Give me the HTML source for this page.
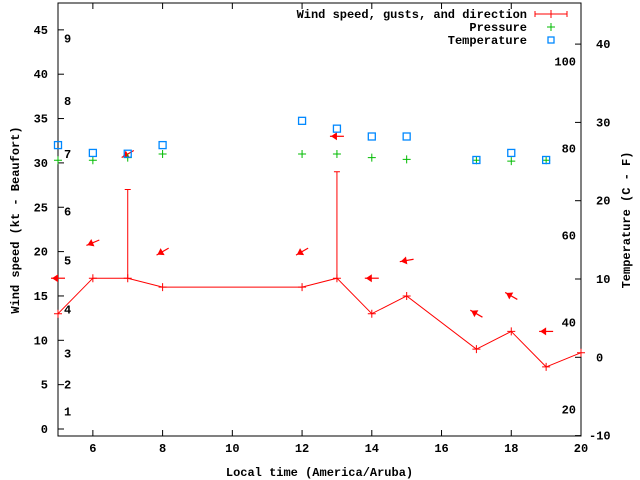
<!DOCTYPE html>
<html><head><meta charset="utf-8"><style>
body{margin:0;background:#fff}
svg{display:block;font-family:"Liberation Mono",monospace;font-weight:bold;font-size:12px}
</style></head><body>
<svg id="chart" width="640" height="480" xmlns="http://www.w3.org/2000/svg">
<rect width="640" height="480" fill="#fff"/>
<g id="g"></g>
</svg>
<script>
const hours=[5,6,7,8,12,13,14,15,17,18,19,20];
const windSpeed=[13,17,17,16,16,17,13,15,9,11,7,8.6];
const gustHours=[7,13];
const gustValues=[27,29];
const arrowHours=[5,6,7,8,12,13,14,15,17,18,19];
const arrowLevels=[17,21,31,20,20,33,17,19,13,15,11];
const windFrom=[90,67,60,60,60,90,90,80,120,120,90];
const presHours=[5,6,7,8,12,13,14,15,17,18,19];
const pressure=[30.3,30.3,30.6,31,31,31,30.6,30.4,30.3,30.2,30.3];
const tempHours=[5,6,7,8,12,13,14,15,17,18,19];
const tempC=[27.1,26.1,26,27.1,30.2,29.2,28.2,28.2,25.2,26.1,25.2];
const xTicks=[6,8,10,12,14,16,18,20];
const yTicks=[0,5,10,15,20,25,30,35,40,45];
const cTicks=[-10,0,10,20,30,40];
const fTicks=[20,40,60,80,100];
const beaufort=[1,2,3,4,5,6,7,8,9];
const beaufortKt=[2,5,8.5,13.5,19,24.5,31,37,44];

const L=58,R=581,T=3,B=436;
const X=h=>L+(h-5)/15*(R-L);
const Y=v=>429-v*8.87;
const YC=c=>357.3-c*7.83;
const g=document.getElementById('g');
const NS='http://www.w3.org/2000/svg';
function mk(tag,attrs,name,text){const e=document.createElementNS(NS,tag);for(const k in attrs)e.setAttribute(k,attrs[k]);


if(text!==undefined)e.textContent=text;g.appendChild(e);return e;}

mk('rect',{x:L,y:T,width:R-L,height:B-T,fill:'none',stroke:'#000'},'plot-frame');
xTicks.forEach(t=>{const x=X(t);mk('line',{x1:x,y1:B,x2:x,y2:B-6,stroke:'#000'},'x-tick');mk('line',{x1:x,y1:T,x2:x,y2:T+6,stroke:'#000'},'x-tick-top');
mk('text',{x:x,y:B+16,'text-anchor':'middle'},'x-tick-label',t);});
yTicks.forEach(t=>{const y=Y(t);mk('line',{x1:L,y1:y,x2:L+6,y2:y,stroke:'#000'},'y-tick');
mk('text',{x:L-10,y:y+4,'text-anchor':'end'},'y-tick-label',t);});
cTicks.forEach(t=>{const y=YC(t);mk('line',{x1:R,y1:y,x2:R-6,y2:y,stroke:'#000'},'y2-tick');
mk('text',{x:R+35,y:y+4,'text-anchor':'start'},'y2-tick-label',t).setAttribute('x',R+(t<0?8:(t===0?15:15)));});
fTicks.forEach(t=>{const y=YC((t-32)*5/9);mk('text',{x:R-5,y:y+4,'text-anchor':'end'},'fahrenheit-label',t);});
beaufort.forEach((b,i)=>{mk('text',{x:64,y:Y(beaufortKt[i])+4},'beaufort-label',b);});
mk('text',{x:(L+R)/2,y:476,'text-anchor':'middle'},'x-axis-title','Local time (America/Aruba)');
mk('text',{x:0,y:0,'text-anchor':'middle',transform:'translate(19,220) rotate(-90)'},'y-axis-title','Wind speed (kt - Beaufort)');
mk('text',{x:0,y:0,'text-anchor':'middle',transform:'translate(630,220) rotate(-90)'},'y2-axis-title','Temperature (C - F)');

const defs=document.createElementNS(NS,'defs');defs.innerHTML='<clipPath id="cp"><rect x="58" y="3" width="523" height="433"/></clipPath>';g.appendChild(defs);
const wg=mk('g',{'clip-path':'url(#cp)'},'wind-series');
mk('polyline',{points:hours.map((h,i)=>X(h)+','+Y(windSpeed[i])).join(' '),fill:'none',stroke:'#f00'},'wind-speed-line');
hours.forEach((h,i)=>{const x=X(h),y=Y(windSpeed[i]);mk('path',{d:`M${x-4},${y}h8M${x},${y-4}v8`,stroke:'#f00'},'wind-point');});
gustHours.forEach((h,i)=>{const x=X(h);mk('path',{d:`M${x},${Y(windSpeed[hours.indexOf(h)])}V${Y(gustValues[i])}M${x-3},${Y(gustValues[i])}h6`,stroke:'#f00'},'gust-bar');});
arrowHours.forEach((h,i)=>{const b=(windFrom[i]+180)*Math.PI/180;const dx=Math.sin(b),dy=-Math.cos(b);
const cx=X(h),cy=Y(arrowLevels[i]);const hx=cx+dx*7,hy=cy+dy*7,tx=cx-dx*7,ty=cy-dy*7;
const px=-dy,py=dx;
mk('line',{x1:tx,y1:ty,x2:hx,y2:hy,stroke:'#f00','stroke-width':1.2},'wind-arrow');
mk('polygon',{points:`${hx-dx},${hy-dy} ${hx-dx*7+px*4},${hy-dy*7+py*4} ${hx-dx*7-px*4},${hy-dy*7-py*4}`,fill:'#f00'},'wind-arrow-head');});
presHours.forEach((h,i)=>{const x=X(h),y=Y(pressure[i]);mk('path',{d:`M${x-4},${y}h8M${x},${y-4}v8`,stroke:'#0b0'},'pressure-point');});
tempHours.forEach((h,i)=>{const x=X(h),y=YC(tempC[i]);mk('rect',{x:x-3.5,y:y-3.5,width:7,height:7,fill:'none',stroke:'#08f','stroke-width':1.3},'temperature-point');});

mk('text',{x:527,y:18,'text-anchor':'end'},'legend-wind-label','Wind speed, gusts, and direction');
mk('path',{d:'M535,14h32M535,11v6M567,11v6M551,10v8',stroke:'#f00'},'legend-wind-sample');
mk('text',{x:527,y:31,'text-anchor':'end'},'legend-pressure-label','Pressure');
mk('path',{d:'M547,27h8M551,23v8',stroke:'#0b0'},'legend-pressure-sample');
mk('text',{x:527,y:44,'text-anchor':'end'},'legend-temperature-label','Temperature');
mk('rect',{x:548,y:37,width:6,height:6,fill:'none',stroke:'#08f','stroke-width':1.3},'legend-temperature-sample');
</script>
</body></html>
